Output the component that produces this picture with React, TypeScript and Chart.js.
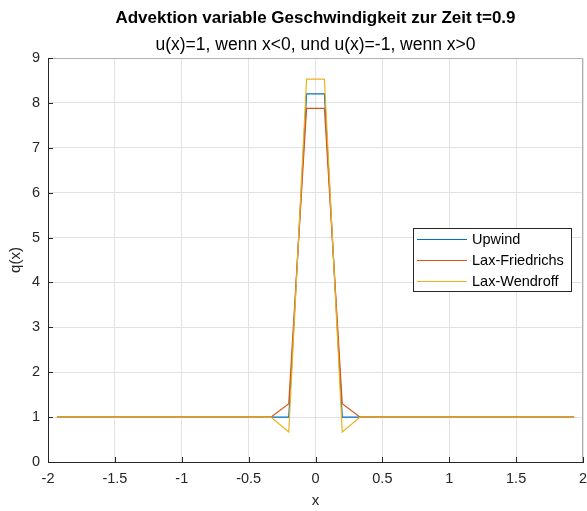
import React, { useEffect, useRef } from "react";
import { Chart, registerables } from "chart.js";

Chart.register(...registerables);

const titleText = "Advektion variable Geschwindigkeit zur Zeit t=0.9";
const subtitleText = "u(x)=1, wenn x<0, und u(x)=-1, wenn x>0";
const xLabel = "x";
const yLabel = "q(x)";

const xValues = [
  -1.9333, -1.8, -1.6667, -1.5333, -1.4, -1.2667, -1.1333, -1, -0.8667, -0.7333,
  -0.6, -0.4667, -0.3333, -0.2, -0.0667, 0.0667, 0.2, 0.3333, 0.4667, 0.6,
  0.7333, 0.8667, 1, 1.1333, 1.2667, 1.4, 1.5333, 1.6667, 1.8, 1.9333,
];

const upwind = [
  1, 1, 1, 1, 1, 1, 1, 1, 1, 1,
  1, 1, 1, 1, 8.2, 8.2, 1, 1, 1, 1,
  1, 1, 1, 1, 1, 1, 1, 1, 1, 1,
];

const laxFriedrichs = [
  1, 1, 1, 1, 1, 1, 1, 1, 1, 1,
  1, 1, 1, 1.3, 7.88, 7.88, 1.3, 1, 1, 1,
  1, 1, 1, 1, 1, 1, 1, 1, 1, 1,
];

const laxWendroff = [
  1, 1, 1, 1, 1, 1, 1, 1, 1, 1,
  1, 1, 1, 0.67, 8.53, 8.53, 0.67, 1, 1, 1,
  1, 1, 1, 1, 1, 1, 1, 1, 1, 1,
];

const seriesNames = ["Upwind", "Lax-Friedrichs", "Lax-Wendroff"];
const seriesColors = ["#0072BD", "#D95319", "#EDB120"];

const FONT = '"Liberation Sans", Arial, Helvetica, sans-serif';
const AXIS_COLOR = "#262626";

const decorPlugin = {
  id: "decor",
  afterDraw(chart: any) {
    const ctx = chart.ctx;
    const { left, right, top, bottom } = chart.chartArea;
    ctx.save();
    // box top/right
    ctx.strokeStyle = "#b0b0b0";
    ctx.lineWidth = 1;
    ctx.beginPath();
    ctx.moveTo(left, top + 0.5);
    ctx.lineTo(right - 0.5, top + 0.5);
    ctx.lineTo(right - 0.5, bottom);
    ctx.stroke();
    // inner ticks
    ctx.strokeStyle = AXIS_COLOR;
    ctx.beginPath();
    const xs = chart.scales.x;
    const ys = chart.scales.y;
    xs.ticks.forEach((t: any) => {
      const px = Math.round(xs.getPixelForValue(t.value)) + 0.5;
      ctx.moveTo(px, bottom);
      ctx.lineTo(px, bottom - 5);
    });
    ys.ticks.forEach((t: any) => {
      const py = Math.round(ys.getPixelForValue(t.value)) + 0.5;
      ctx.moveTo(left, py);
      ctx.lineTo(left + 5, py);
    });
    ctx.stroke();

    // titles
    ctx.fillStyle = "#000000";
    ctx.textAlign = "center";
    ctx.textBaseline = "middle";
    const cx = (left + right) / 2;
    ctx.font = `bold 17px ${FONT}`;
    ctx.fillText(titleText, cx, top - 40);
    ctx.font = `17.5px ${FONT}`;
    ctx.fillText(subtitleText, cx, top - 13);

    // axis titles
    ctx.fillStyle = AXIS_COLOR;
    ctx.font = `15px ${FONT}`;
    ctx.fillText(xLabel, cx, bottom + 39);
    ctx.save();
    ctx.translate(left - 32, (top + bottom) / 2);
    ctx.rotate(-Math.PI / 2);
    ctx.fillText(yLabel, 0, 0);
    ctx.restore();

    // legend
    const lx = right - 170;
    const ly = top + 170;
    const lw = 158;
    const lh = 63;
    ctx.fillStyle = "#ffffff";
    ctx.fillRect(lx, ly, lw, lh);
    ctx.strokeStyle = AXIS_COLOR;
    ctx.strokeRect(lx + 0.5, ly + 0.5, lw, lh);
    ctx.font = `14.5px ${FONT}`;
    ctx.textAlign = "left";
    chart.data.datasets.forEach((ds: any, i: number) => {
      const ry = Math.round(ly + 11 + i * 21.2) + 0.5;
      ctx.strokeStyle = ds.borderColor;
      ctx.lineWidth = 1;
      ctx.beginPath();
      ctx.moveTo(lx + 4, ry);
      ctx.lineTo(lx + 54, ry);
      ctx.stroke();
      ctx.fillStyle = "#000000";
      ctx.fillText(ds.label, lx + 59, ry);
    });
    ctx.restore();
  },
};

export default function App() {
  const canvasRef = useRef<HTMLCanvasElement | null>(null);

  useEffect(() => {
    document.body.style.margin = "0";
    const canvas = canvasRef.current;
    if (!canvas) return;
    const seriesData = [upwind, laxFriedrichs, laxWendroff];
    const chart = new Chart(canvas, {
      type: "line",
      data: {
        datasets: seriesData.map((vals, i) => ({
          label: seriesNames[i],
          data: xValues.map((x, j) => ({ x, y: vals[j] })),
          borderColor: seriesColors[i],
          backgroundColor: seriesColors[i],
          borderWidth: 1.2,
          pointRadius: 0,
          tension: 0,
          fill: false,
          order: 3 - i,
        })),
      },
      options: {
        animation: false,
        responsive: false,
        devicePixelRatio: 1,
        layout: { padding: { top: 58, right: 4, bottom: 0, left: 0 } },
        plugins: {
          legend: { display: false },
          tooltip: { enabled: false },
          title: { display: false },
        },
        scales: {
          x: {
            type: "linear",
            min: -2,
            max: 2,
            ticks: {
              stepSize: 0.5,
              color: AXIS_COLOR,
              font: { family: FONT, size: 14.5 },
              padding: 8,
              maxRotation: 0,
              callback: (v: any) => String(Number(v)),
            },
            grid: { color: "#e2e2e2", drawTicks: false },
            border: { display: true, color: AXIS_COLOR, width: 1 },
            afterFit: (s: any) => {
              s.height = 49;
              s.paddingLeft = 0;
              s.paddingRight = 0;
            },
          },
          y: {
            type: "linear",
            min: 0,
            max: 9,
            ticks: {
              stepSize: 1,
              color: AXIS_COLOR,
              font: { family: FONT, size: 14.5 },
              padding: 8,
              callback: (v: any) => String(Number(v)),
            },
            grid: { color: "#e2e2e2", drawTicks: false },
            border: { display: true, color: AXIS_COLOR, width: 1 },
            afterFit: (s: any) => {
              s.width = 48;
            },
          },
        },
      },
      plugins: [decorPlugin],
    });
    return () => chart.destroy();
  }, []);

  return (
    <div style={{ width: 587, height: 511, background: "#ffffff" }}>
      <canvas ref={canvasRef} width={587} height={511} />
    </div>
  );
}
